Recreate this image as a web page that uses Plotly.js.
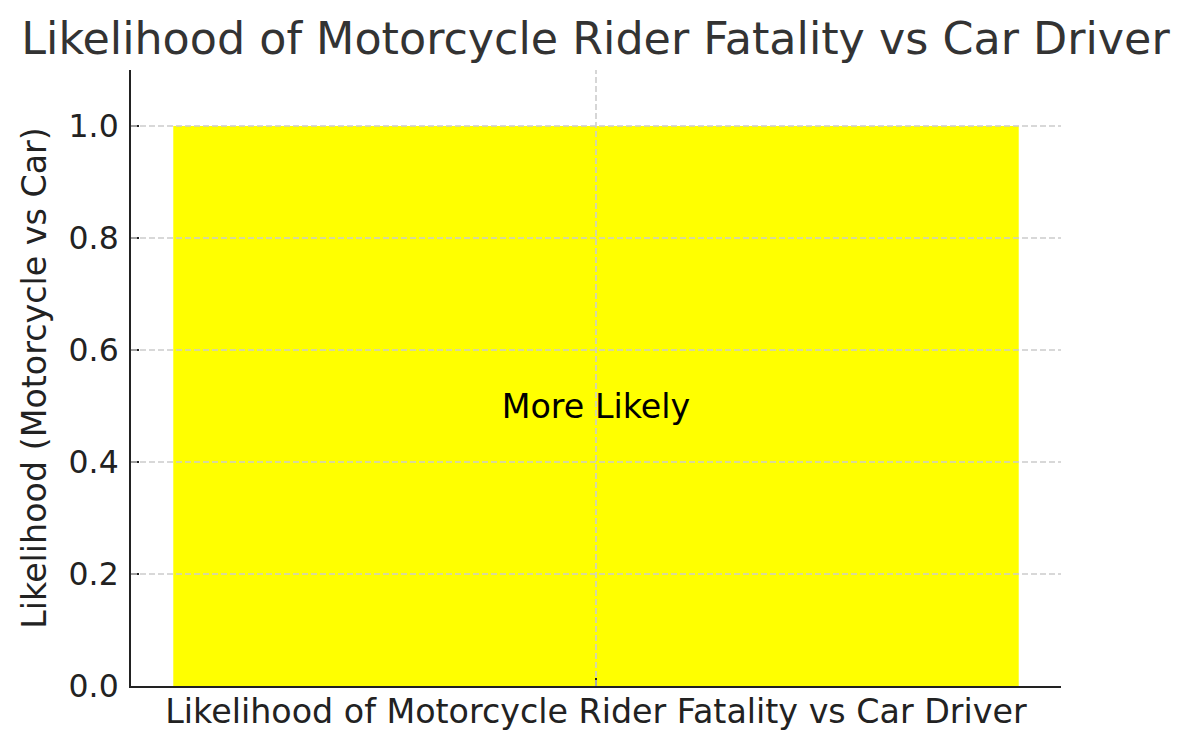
<!DOCTYPE html>
<html>
<head>
<meta charset="utf-8">
<script src="https://cdn.plot.ly/plotly-3.0.1.min.js"></script>
<style>html,body{margin:0;padding:0;background:#fff;}#chart{width:1191px;height:749px;}</style>
</head>
<body>
<div id="chart"></div>
<script>
const categories = ["Likelihood of Motorcycle Rider Fatality vs Car Driver"];
const values = [1.0];
const barLabels = ["More Likely"];
const yTicks = [0, 0.2, 0.4, 0.6, 0.8, 1.0];
const yTickLabels = ["0.0", "0.2", "0.4", "0.6", "0.8", "1.0"];

const font = "DejaVu Sans, sans-serif";
const gridLine = {color: "#cccccc", width: 1.6, dash: "6px,3px"};
const gridShapes = yTicks.slice(1).map(v => ({
  type: "line", xref: "paper", x0: 0, x1: 1, yref: "y", y0: v, y1: v,
  line: gridLine, layer: "above"
}));
gridShapes.push({
  type: "line", xref: "x", x0: categories[0], x1: categories[0], yref: "paper", y0: 0, y1: 1,
  line: gridLine, layer: "above"
});

const data = [{
  type: "bar",
  x: categories,
  y: values,
  text: barLabels,
  textposition: "inside",
  insidetextanchor: "middle",
  textfont: {family: font, size: 33.3, color: "#000"},
  marker: {color: "#ffff00", line: {width: 0}},
  width: 0.8,
  hoverinfo: "none"
}];

const layout = {
  width: 1191, height: 749,
  margin: {l: 131, r: 130, t: 70, b: 63},
  paper_bgcolor: "#fff", plot_bgcolor: "#fff",
  font: {family: font, color: "#222"},
  title: {text: "Likelihood of Motorcycle Rider Fatality vs Car Driver",
          font: {family: font, size: 44.4, color: "#333"},
          x: 0.5, xanchor: "center", yref: "container", y: 0.97, yanchor: "top"},
  xaxis: {
    type: "category", range: [-0.44, 0.44],
    showgrid: false, zeroline: false, layer: "above traces",
    showline: true, linecolor: "#222", linewidth: 2,
    ticks: "inside", ticklen: 8, tickwidth: 2, tickcolor: "#222",
    ticklabelstandoff: -5,
    tickfont: {family: font, size: 33.3, color: "#222"}
  },
  yaxis: {
    range: [0, 1.1], tickvals: yTicks, ticktext: yTickLabels,
    showgrid: false, zeroline: false, layer: "above traces",
    showline: true, linecolor: "#222", linewidth: 2,
    ticks: "inside", ticklen: 8, tickwidth: 2, tickcolor: "#222",
    ticklabelstandoff: 4,
    tickfont: {family: font, size: 31.5, color: "#222"},
    title: {text: "Likelihood (Motorcycle vs Car)", font: {family: font, size: 33.3, color: "#222"}, standoff: 12}
  },
  shapes: gridShapes,
  showlegend: false
};

Plotly.newPlot("chart", data, layout, {displayModeBar: false, staticPlot: true});
</script>
</body>
</html>
